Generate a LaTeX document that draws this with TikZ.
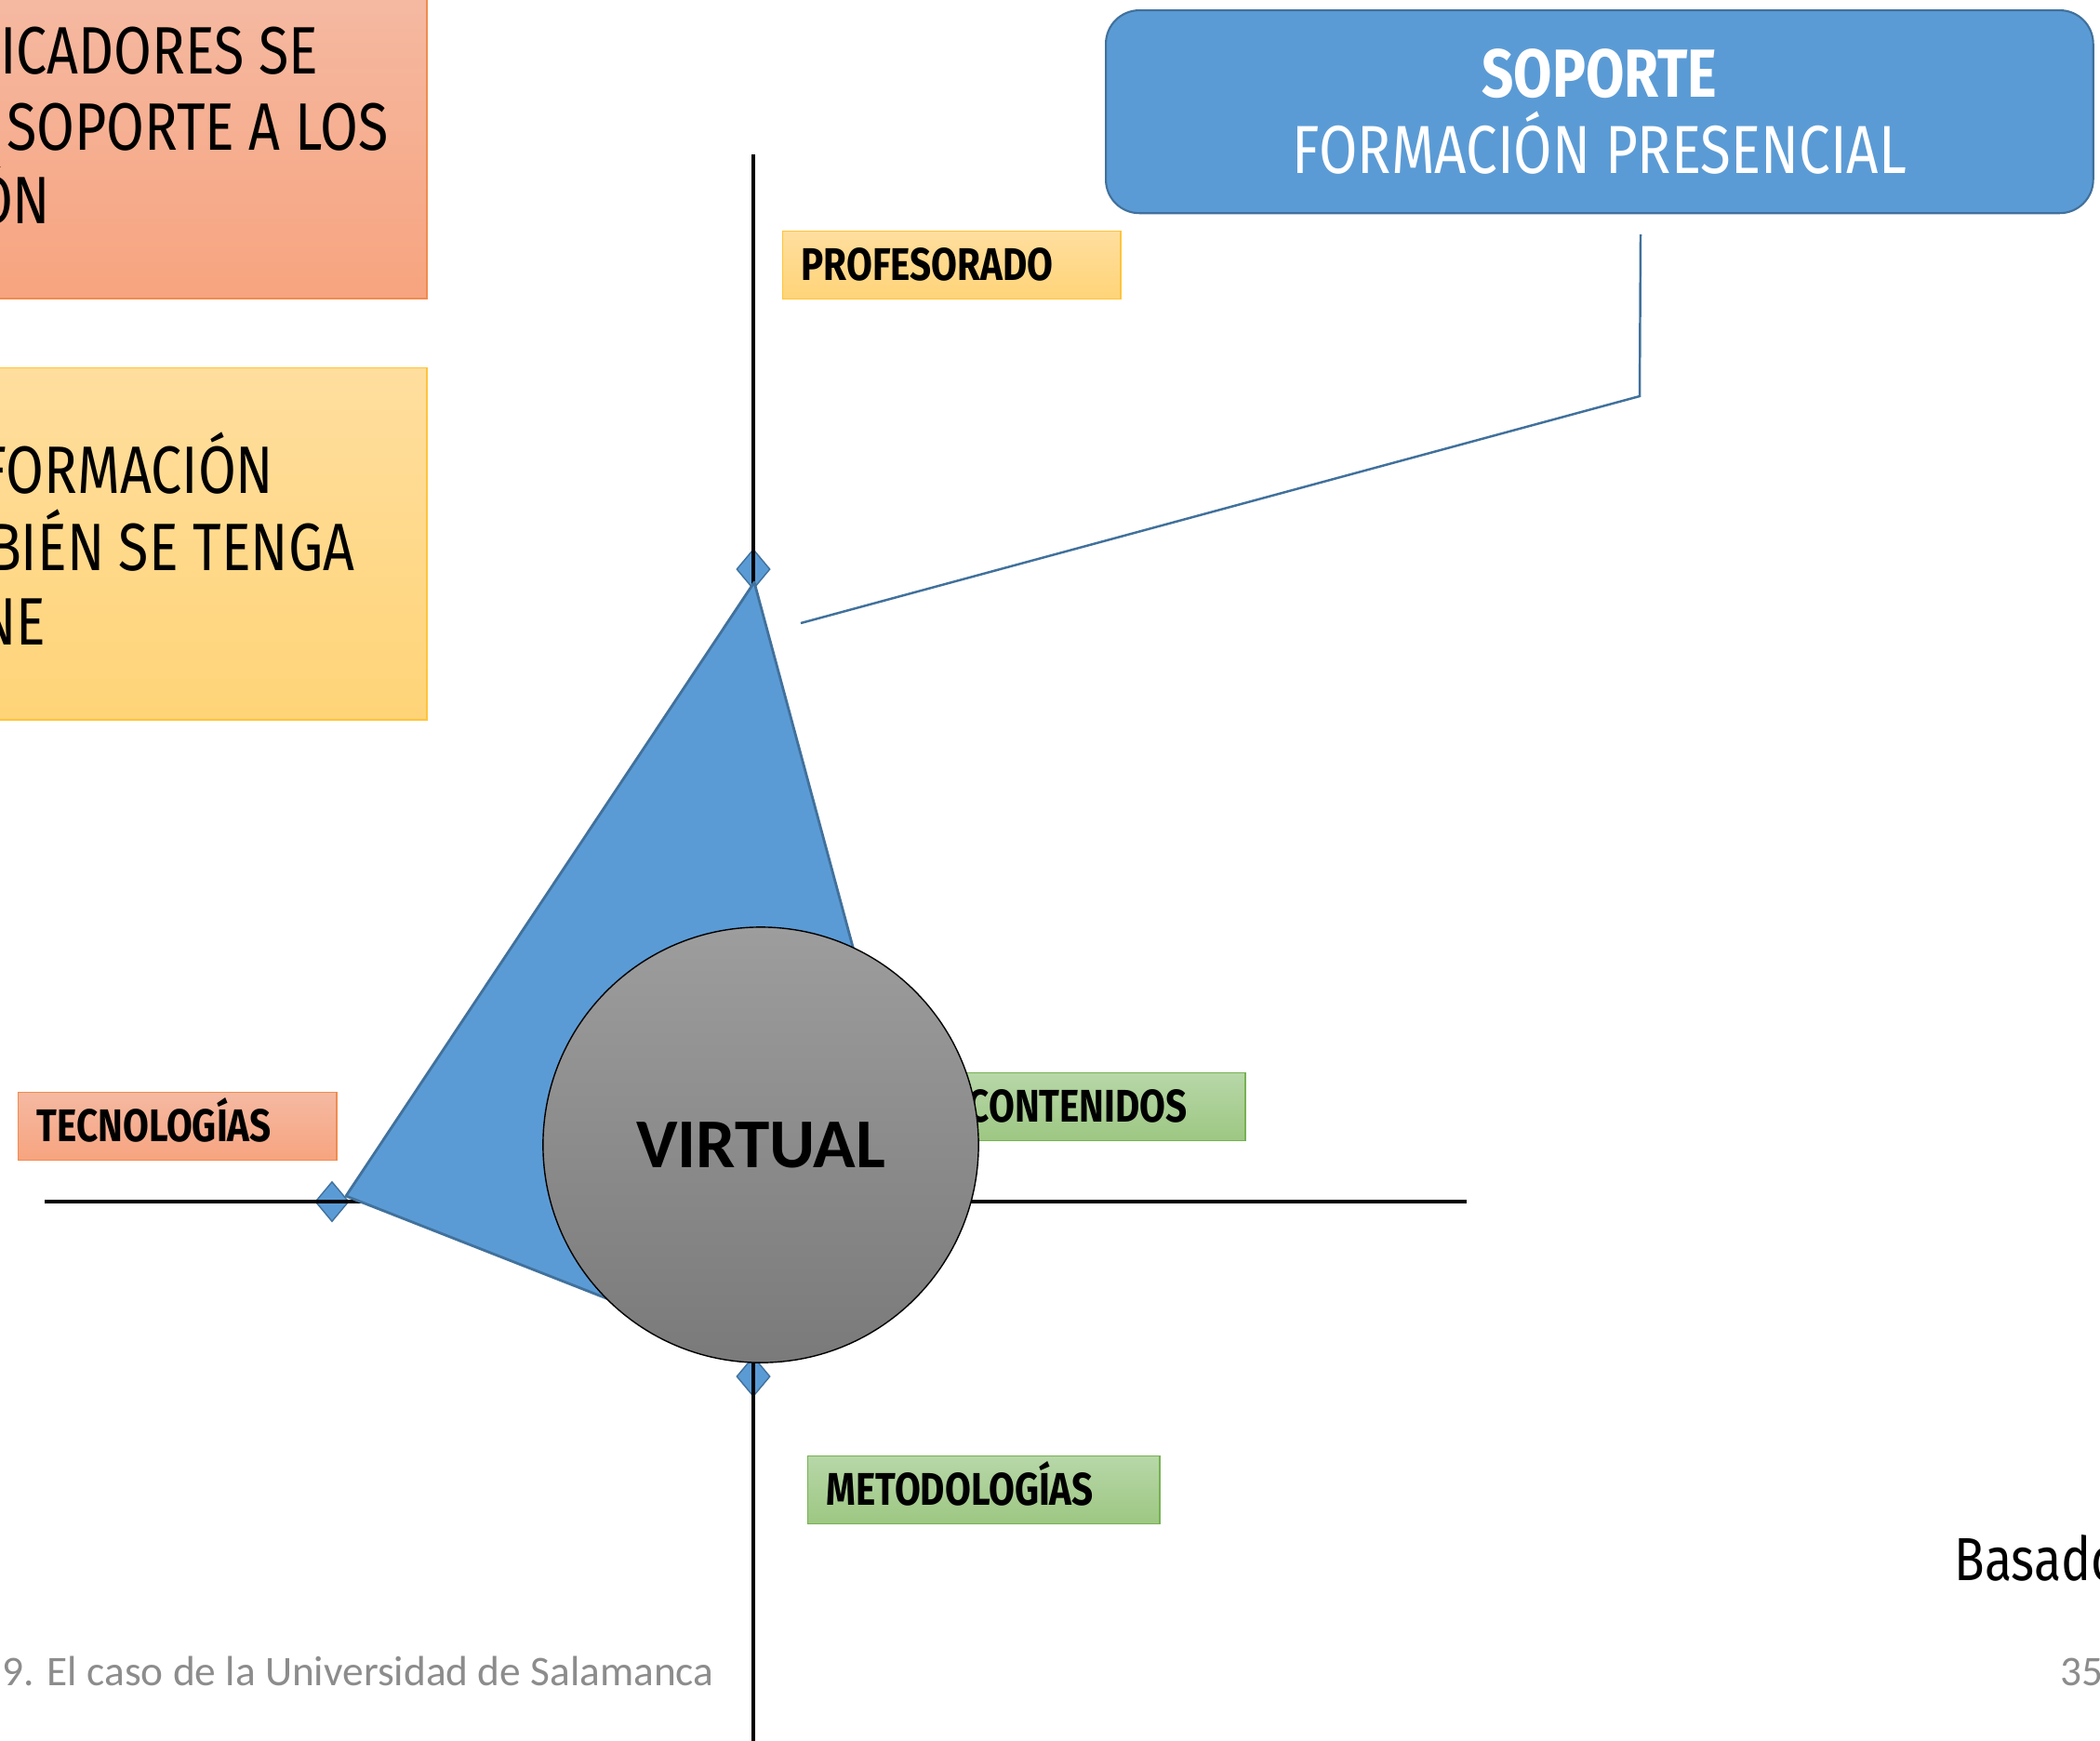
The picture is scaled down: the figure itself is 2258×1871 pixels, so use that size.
\documentclass[tikz,border=0pt]{standalone}
\usepackage{fontspec}
\setmainfont{Carlito}
\newfontfamily\dinfont{Fira Sans}[FakeStretch=0.82]
\usetikzlibrary{positioning, shapes.geometric}

\definecolor{panelblue}{HTML}{5B9BD5}
\definecolor{edgeblue}{HTML}{41719C}
\definecolor{orangetop}{HTML}{F5B9A2}
\definecolor{orangebot}{HTML}{F7A47F}
\definecolor{orangeedge}{HTML}{F08C4F}
\definecolor{yellowtop}{HTML}{FFDE9E}
\definecolor{yellowbot}{HTML}{FFD478}
\definecolor{yellowedge}{HTML}{FFC43A}
\definecolor{greentop}{HTML}{B7D7A8}
\definecolor{greenbot}{HTML}{9DC782}
\definecolor{greenedge}{HTML}{77B153}
\definecolor{greytop}{HTML}{9D9D9D}
\definecolor{greybot}{HTML}{7A7A7A}
\definecolor{footgrey}{HTML}{8C8C8C}

\tikzset{
orangefill/.style = {top color = orangetop, bottom color = orangebot, draw = orangeedge},
yellowfill/.style = {top color = yellowtop, bottom color = yellowbot, draw = yellowedge},
greenfill/.style = {top color = greentop, bottom color = greenbot, draw = greenedge},
panel/.style = {rectangle, thin, anchor = north west, inner sep = 0pt},
bigtext/.style = {font = \dinfont\fontsize{20.5}{24}\selectfont, inner sep = 0pt,
   anchor = base east},
soportebox/.style = {rectangle, rounded corners = 0.36cm, draw = edgeblue, fill = panelblue,
   line width = 0.6pt, anchor = north west, minimum width = 10.61cm, minimum height = 2.18cm,
   align = center, text = white, font = \dinfont\fontsize{20.8}{23.3}\selectfont},
tag/.style = {rectangle, thin, anchor = north west, minimum height = 0.73cm,
   inner xsep = 0.2cm, inner ysep = 0pt, text height = 0.32cm, text depth = 0pt,
   align = left, font = \dinfont\bfseries\fontsize{14}{16}\selectfont},
marker/.style = {diamond, draw = edgeblue, fill = panelblue, thin, inner sep = 0pt,
   minimum width = 0.36cm, minimum height = 0.43cm},
axis/.style = {draw, black, line width = 1.1pt},
radar/.style = {draw = edgeblue, fill = panelblue, line width = 0.8pt, line join = round},
callout/.style = {draw = edgeblue, line width = 0.7pt},
hub/.style = {circle, draw, thin, minimum size = 4.68cm, inner sep = 0pt,
   top color = greytop, bottom color = greybot,
   font = \bfseries\fontsize{21.4}{25}\selectfont},
footer/.style = {text = footgrey, inner sep = 0pt, anchor = base west,
   font = \fontsize{12.9}{15}\selectfont},
source/.style = {inner sep = 0pt, anchor = base west,
   font = \dinfont\fontsize{18.6}{23}\selectfont}
}

\begin{document}
\begin{tikzpicture}[x = 0.01cm, y = -0.01cm]

\useasboundingbox (0,0) rectangle (2258,1871);
\clip (0,0) rectangle (2258,1871);

%% Panels on the left
\node [panel, orangefill, minimum width = 4.68cm, minimum height = 3.30cm] (plan) at (-10,-10) {};
\node [panel, yellowfill, minimum width = 4.68cm, minimum height = 3.78cm] (form) at (-10,395) {};

\foreach \txt/\x/\y [count = \i] in {ICADORES SE/343/79, SOPORTE A LOS/418/161, ÓN/55/240,
   FORMACIÓN/295/530, BIÉN SE TENGA/382/613, NE/50/693}
   \node [bigtext] (line\i) at (\x,\y) {\txt};

%% Soporte
\node [soportebox] (soporte) at (1188,10) {\textbf{SOPORTE}\\FORMACIÓN PRESENCIAL};

\coordinate (c1) at (1764,252);
\coordinate (c2) at (1763,426);
\coordinate (c3) at (861,670);
\draw [callout] (c1) -- (c2) -- (c3);

%% Markers
\foreach \n/\x/\y in {prof/810/612, cont/991/1292, meto/810/1480, tecn/357/1292}
   \node [marker] (m\n) at (\x,\y) {};

%% Axes
\coordinate (ytop) at (810,166);
\coordinate (ybot) at (810,1885);
\coordinate (xleft) at (48,1292);
\coordinate (xright) at (1577,1292);
\draw [axis] (ytop) -- (ybot);
\draw [axis] (xleft) -- (xright);

%% Radar polygon
\coordinate (rprof) at (811,626);
\coordinate (rcont) at (991,1292);
\coordinate (rmeto) at (810,1458);
\coordinate (rtecn) at (372,1286);
\draw [radar] (rprof) -- (rcont) -- (rmeto) -- (rtecn) -- cycle;

%% Tags
\node [tag, yellowfill, text width = 3.23cm] (profesorado) at (841,248) {PROFESORADO};
\node [tag, greenfill, text width = 2.78cm] (contenidos) at (1020,1153) {CONTENIDOS};
\node [tag, orangefill, text width = 3.02cm] (tecnologias) at (19,1174) {TECNOLOGÍAS};
\node [tag, greenfill, text width = 3.38cm] (metodologias) at (868,1565) {METODOLOGÍAS};

%% Hub
\node [hub] (virtual) at (818,1231) {VIRTUAL};

%% Footer
\node [footer] (slide) at (2,1812) {9. El caso de la Universidad de Salamanca};
\node [footer] (page) at (2215,1812) {35};
\node [source] (basado) at (2101,1699) {Basado};

\end{tikzpicture}
\end{document}
